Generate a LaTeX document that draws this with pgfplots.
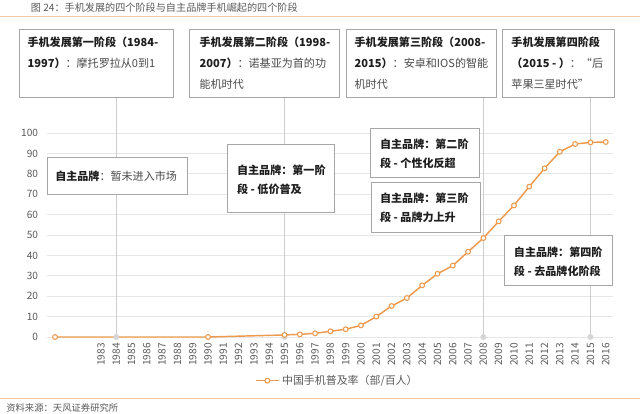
\documentclass[border=0pt]{standalone}
\usepackage{fontspec}
\setmainfont{Noto Sans CJK SC}
\usepackage{pgfplots}
\pgfplotsset{compat=1.18}

\definecolor{orng}{HTML}{EE9A4E}
\definecolor{gridc}{HTML}{E6E6E6}
\definecolor{vline}{HTML}{CDCDCD}
\definecolor{vmark}{HTML}{D6D6D6}
\definecolor{boxc}{HTML}{A6A6A6}
\definecolor{txt}{HTML}{595959}
\definecolor{dark}{HTML}{1E1E1E}
\definecolor{norm}{HTML}{4A4A4A}
\definecolor{rulec}{HTML}{F2CBA6}

\newcommand{\topf}{\fontsize{8.3}{15.7}\selectfont}
\newcommand{\midf}{\fontsize{8.3}{14.2}\selectfont}
\newcommand{\B}[1]{\textbf{\color{dark}#1}}

\begin{document}
\begin{tikzpicture}
% axis placed in absolute pt: 1 px of the reference = 0.75pt
\begin{axis}[
    at={(35.55pt,-252.75pt)}, anchor=south west,
    scale only axis,
    width=424.5pt, height=153pt,
    xmin=1979.5, xmax=2016.5,
    ymin=0, ymax=100,
    clip=false,
    axis line style={draw=none},
    major tick length=0pt,
    ytick={0,10,...,100},
    xtick={1983,...,2016},
    ymajorgrids,
    grid style={gridc, line width=0.75pt},
    /pgf/number format/1000 sep={},
    /pgf/number format/assume math mode=true,
    ticklabel style={font=\fontsize{7.6}{8}\selectfont, text=txt},
    xticklabel style={rotate=90, anchor=east, inner sep=0pt, xshift=-4.5pt},
    yticklabel style={anchor=east, inner sep=0pt, xshift=-6.8pt},
    legend style={at={(0.513,-0.214)}, anchor=center, draw=none, fill=none,
        font=\fontsize{8.2}{9}\selectfont, text=txt, inner sep=0pt},
]
% connector lines from the phase boxes
\addplot[vline, line width=0.75pt, forget plot] coordinates {(1984,0) (1984,117.6)};
\addplot[vline, line width=0.75pt, forget plot] coordinates {(1995,0) (1995,117.6)};
\addplot[vline, line width=0.75pt, forget plot] coordinates {(2008,0) (2008,117.6)};
\addplot[vline, line width=0.75pt, forget plot] coordinates {(2015,0) (2015,117.6)};
\addplot[only marks, mark=*, mark size=2pt, mark options={fill=vmark, draw=vmark}, forget plot]
    coordinates {(1984,0) (1995,0) (2008,0) (2015,0)};

\addplot[orng, line width=1.1pt, mark=*, mark size=1.8pt,
    mark options={fill=white, draw=orng, line width=0.8pt}] coordinates {
    (1980,0) (1990,0) (1995,1.0) (1996,1.3) (1997,1.8) (1998,2.8) (1999,3.8)
    (2000,5.7) (2001,10) (2002,15.2) (2003,19.1) (2004,25.3) (2005,31)
    (2006,35) (2007,41.8) (2008,48.5) (2009,56.7) (2010,64.5) (2011,73.7)
    (2012,82.7) (2013,90.8) (2014,94.6) (2015,95.4) (2016,95.6)};
\addlegendentry{中国手机普及率（部/百人）}
\end{axis}

\begin{scope}[x=0.75pt,y=-0.75pt]
\path[use as bounding box] (0,0) rectangle (640,414);

% title and rules
\node[anchor=west, inner sep=0pt, text=txt, font=\fontsize{7.6}{9}\selectfont] at (30.6,7.5) {图 24：手机发展的四个阶段与自主品牌手机崛起的四个阶段};
\draw[rulec, line width=0.75pt] (0,16.7) -- (640,16.7);
\draw[rulec, line width=0.75pt] (0,398.3) -- (640,398.3);
\node[anchor=west, inner sep=0pt, text=txt, font=\fontsize{7}{8}\selectfont] at (6,408) {资料来源：天风证券研究所};

\tikzset{bx/.style={draw=boxc, fill=white, line width=0.75pt}}
% phase boxes on top
\draw[bx] (19.6,29.3) rectangle (173.5,97);
\node[anchor=north west, inner sep=0pt, align=left, font=\topf, text=norm] at (27.3,36.5)
    {\B{手机发展第一阶段（1984-}\\\B{1997）}：摩托罗拉从0到1};
\draw[bx] (189.9,29.3) rectangle (339.7,97);
\node[anchor=north west, inner sep=0pt, align=left, font=\topf, text=norm] at (199.3,36.5)
    {\B{手机发展第二阶段（1998-}\\\B{2007）}：诺基亚为首的功\\能机时代};
\draw[bx] (346.3,29.3) rectangle (496.1,97);
\node[anchor=north west, inner sep=0pt, align=left, font=\topf, text=norm] at (354.4,36.5)
    {\B{手机发展第三阶段（2008-}\\\B{2015）}：安卓和IOS的智能\\机时代};
\draw[bx] (502.3,29.3) rectangle (614.5,97);
\node[anchor=north west, inner sep=0pt, align=left, font=\topf, text=norm] at (511.2,36.5)
    {\B{手机发展第四阶段}\\\B{（2015 - ）}：“后\\苹果三星时代”};

% own-brand boxes
\draw[bx] (47,157.7) rectangle (187,194);
\node[anchor=west, inner sep=0pt, font=\midf, text=norm] at (55,176)
    {\B{自主品牌}：暂未进入市场};
\draw[bx] (227.8,144) rectangle (334.8,212.7);
\node[anchor=west, inner sep=0pt, align=left, font=\midf] at (236.8,179.5)
    {\B{自主品牌：第一阶}\\\B{段 - 低价普及}};
\draw[bx] (370.7,128.3) rectangle (479.8,177.3);
\node[anchor=west, inner sep=0pt, align=left, font=\midf] at (379.8,153.5)
    {\B{自主品牌：第二阶}\\\B{段 - 个性化反超}};
\draw[bx] (371.6,182) rectangle (480.6,232);
\node[anchor=west, inner sep=0pt, align=left, font=\midf] at (379.8,208)
    {\B{自主品牌：第三阶}\\\B{段 - 品牌力上升}};
\draw[bx] (504.3,235.7) rectangle (612.5,285);
\node[anchor=west, inner sep=0pt, align=left, font=\midf] at (513.7,261.5)
    {\B{自主品牌：第四阶}\\\B{段 - 去品牌化阶段}};
\end{scope}
\end{tikzpicture}
\end{document}
